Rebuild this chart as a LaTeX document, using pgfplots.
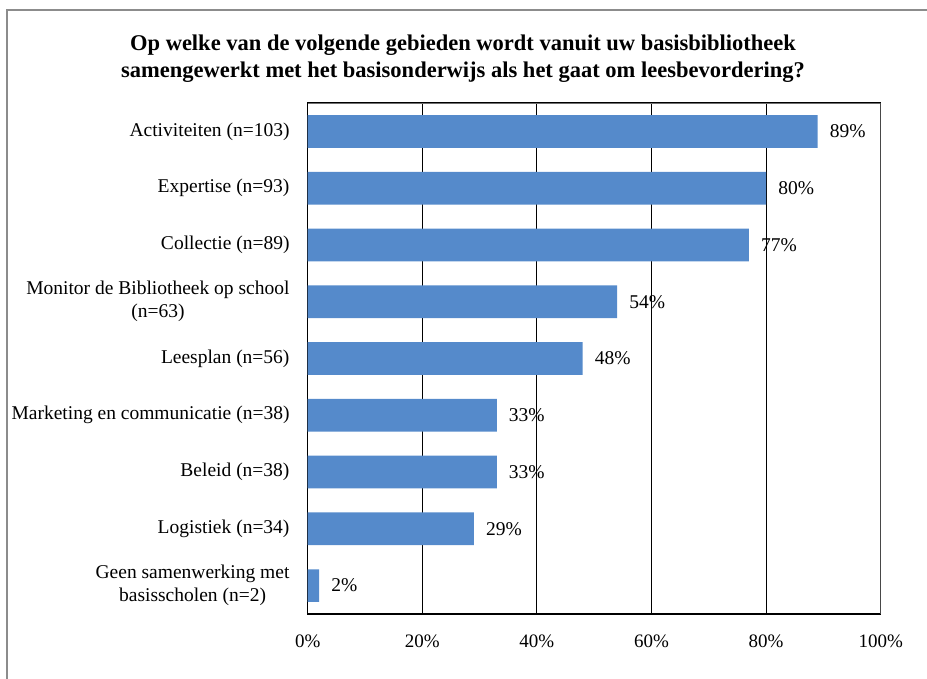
\documentclass[border=0pt]{standalone}
\usepackage{pgfplots}
\pgfplotsset{compat=1.18}
\usepackage{fontspec}
\setmainfont{Liberation Serif}
\definecolor{barblue}{RGB}{85,138,203}
\definecolor{framegray}{RGB}{140,140,140}
\definecolor{axgray}{RGB}{110,110,110}
\begin{document}
\begin{tikzpicture}[x=1pt,y=1pt]
\useasboundingbox (0,0) rectangle (927,678);
\draw[framegray, line width=2pt] (7,-5) -- (7,668) -- (935,668);
\node[font=\bfseries\fontsize{22.5}{27}\selectfont, align=center] at (463,619.5)
  {Op welke van de volgende gebieden wordt vanuit uw basisbibliotheek\\samengewerkt met het basisonderwijs als het gaat om leesbevordering?};
\begin{axis}[
  at={(307.7pt,64pt)}, anchor=south west,
  scale only axis, width=573pt, height=511pt,
  xbar, bar width=32.7pt,
  xmin=0, xmax=100, ymin=0.5, ymax=9.5, y dir=reverse,
  enlargelimits=false,
  ytick={1,...,9},
  yticklabels={{Activiteiten (n=103)},{Expertise (n=93)},{Collectie (n=89)},{Monitor de Bibliotheek op school\\(n=63)},{Leesplan (n=56)},{Marketing en communicatie (n=38)},{Beleid (n=38)},{Logistiek (n=34)},{Geen samenwerking met\\basisscholen (n=2)}},
  yticklabel style={font=\fontsize{19.5}{23}\selectfont, align=center, anchor=east, inner sep=0pt, xshift=-18pt},
  xtick={0,20,40,60,80,100},
  xticklabel={\pgfmathprintnumber{\tick}\%},
  xticklabel style={font=\fontsize{19}{22}\selectfont, anchor=base, inner sep=0pt, yshift=-33pt},
  /pgf/number format/assume math mode=true,
  major tick length=0pt,
  xmajorgrids, major grid style={black, line width=1.1pt},
  axis line style={black, line width=1.3pt},
  point meta=x,
  nodes near coords={\pgfmathprintnumber{\pgfplotspointmeta}\%},
  every node near coord/.append style={font=\fontsize{19.5}{22}\selectfont, anchor=west, inner sep=0pt, xshift=12pt, black},
]
\addplot[fill=barblue, draw=none] coordinates {
  (89,1) (80,2) (77,3) (54,4) (48,5) (33,6) (33,7) (29,8) (2,9)
};
\draw[axgray, line width=1.3pt] (rel axis cs:0,1) -- (rel axis cs:1,1) -- (rel axis cs:1,0);
\end{axis}
\end{tikzpicture}
\end{document}
